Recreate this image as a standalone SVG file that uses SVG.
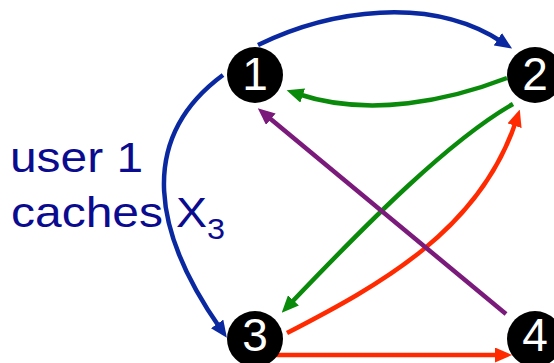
<svg xmlns="http://www.w3.org/2000/svg" width="554" height="363" viewBox="0 0 554 363">
<defs>
<style>
.n{fill:#000}
.d{fill:#fff;font-family:"Liberation Sans",Arial,sans-serif;font-size:46px;text-anchor:middle}
.e{fill:none;stroke-width:4.5}
.t{fill:#0b0b8f;font-family:"Liberation Sans",Arial,sans-serif;font-size:43px}
</style>
<marker id="ab" markerUnits="userSpaceOnUse" markerWidth="17" markerHeight="15" refX="5" refY="7.5" orient="auto"><path d="M0,0 L17,7.5 L0,15 z" fill="#0a28a0"/></marker>
<marker id="ag" markerUnits="userSpaceOnUse" markerWidth="17" markerHeight="15" refX="5" refY="7.5" orient="auto"><path d="M0,0 L17,7.5 L0,15 z" fill="#0a8a0a"/></marker>
<marker id="ar" markerUnits="userSpaceOnUse" markerWidth="17" markerHeight="15" refX="5" refY="7.5" orient="auto"><path d="M0,0 L17,7.5 L0,15 z" fill="#ff2a00"/></marker>
<marker id="ap" markerUnits="userSpaceOnUse" markerWidth="17" markerHeight="15" refX="5" refY="7.5" orient="auto"><path d="M0,0 L17,7.5 L0,15 z" fill="#7a1a7a"/></marker>
</defs>
<g id="connectors">
<path class="e" stroke="#0a28a0" marker-end="url(#ab)" d="M258,45 C330,10 430,-5 502,42"/>
<path class="e" stroke="#0a8a0a" marker-end="url(#ag)" d="M507,78 C450,100 370,118 298,94"/>
<path class="e" stroke="#0a28a0" marker-end="url(#ab)" d="M223,75 C135,140 155,235 220,328"/>
<path class="e" stroke="#0a8a0a" marker-end="url(#ag)" d="M513,104 C450,140 370,220 290,304"/>
<path class="e" stroke="#ff2a00" marker-end="url(#ar)" d="M287,333 C380,285 480,230 516,121"/>
<path class="e" stroke="#7a1a7a" marker-end="url(#ap)" d="M506,314 L267,116"/>
<path class="e" stroke="#ff2a00" marker-end="url(#ar)" d="M273,355 L500,355"/>
</g>
<g id="node1"><circle class="n" cx="255" cy="75" r="28"/><text class="d" x="255" y="90">1</text></g>
<g id="node2"><circle class="n" cx="535" cy="75" r="28"/><text class="d" x="535" y="90">2</text></g>
<g id="node3"><circle class="n" cx="255" cy="339" r="28"/><text class="d" x="255" y="351">3</text></g>
<g id="node4"><circle class="n" cx="535" cy="339" r="28"/><text class="d" x="535" y="351">4</text></g>
<g id="label">
<text class="t" x="10" y="172" textLength="133" lengthAdjust="spacingAndGlyphs">user 1</text>
<text class="t" x="11" y="227" textLength="152" lengthAdjust="spacingAndGlyphs">caches</text>
<text class="t" x="176" y="227" textLength="31" lengthAdjust="spacingAndGlyphs">X</text>
<text class="t" x="207" y="239" style="font-size:29px" textLength="18" lengthAdjust="spacingAndGlyphs">3</text>
</g>
</svg>
